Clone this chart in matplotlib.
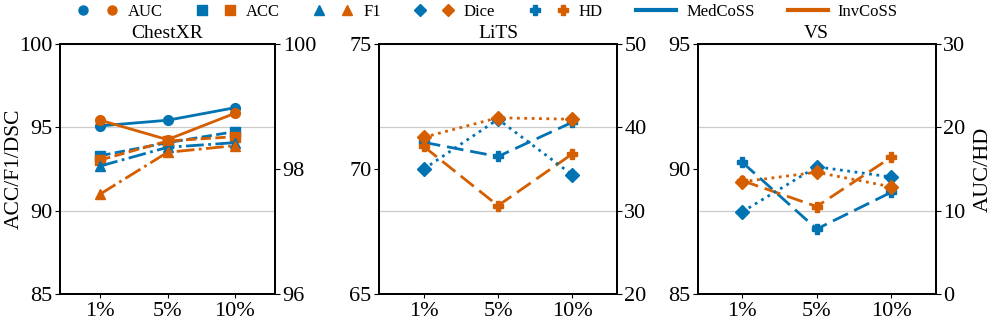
import matplotlib
matplotlib.use("Agg")
import matplotlib.pyplot as plt
from matplotlib.lines import Line2D
from matplotlib.legend_handler import HandlerTuple

plt.rcParams['font.family'] = ['Liberation Serif', 'DejaVu Serif']
plt.rcParams['font.size'] = 16
plt.rcParams['mathtext.fontset'] = 'stix'

x_labels = ["1%", "5%", "10%"]
methods = ["MedCoSS", "InvCoSS"]
colors = {"MedCoSS": "#0173B2", "InvCoSS": "#D55E00"}

# ChestXR
chest_auc = {"MedCoSS": [98.69, 98.78, 98.98], "InvCoSS": [98.78, 98.47, 98.89]}
chest_acc = {"MedCoSS": [93.30, 94.08, 94.74], "InvCoSS": [93.04, 94.18, 94.44]}
chest_f1 = {"MedCoSS": [92.68, 93.80, 94.08], "InvCoSS": [91.00, 93.50, 93.90]}
# LiTS
lits_dice = {"MedCoSS": [70.00, 71.99, 69.77], "InvCoSS": [71.27, 72.05, 71.99]}
lits_hd = {"MedCoSS": [38.2, 36.5, 40.6], "InvCoSS": [37.7, 30.6, 36.8]}
# VS
vs_dice = {"MedCoSS": [88.29, 90.09, 89.68], "InvCoSS": [89.49, 89.87, 89.29]}
vs_hd = {"MedCoSS": [15.8, 7.8, 12.2], "InvCoSS": [13.6, 10.5, 16.4]}

styles = {
    "AUC": dict(ls='-', marker='o'),
    "ACC": dict(ls='--', marker='s'),
    "F1": dict(ls='-.', marker='^'),
    "Dice": dict(ls=':', marker='D'),
    "HD": dict(ls=(0, (6, 2.5)), marker='P'),
}

fig = plt.figure(figsize=(9.96, 3.21), dpi=100)
bottom, height = 27 / 321, 250 / 321
positions = [(60 / 996, 215 / 996), (379.3 / 996, 237.4 / 996), (697.7 / 996, 238 / 996)]
xs = list(range(len(x_labels)))


def draw(ax, data, metric):
    for m in methods:
        ax.plot(xs, data[m], color=colors[m], lw=2, ms=7, **styles[metric])


grid_kw = dict(color='#cccccc', lw=0.9)

# Panel 1
ax = fig.add_axes([positions[0][0], bottom, positions[0][1], height])
ax2 = ax.twinx()
ax.set_ylim(85, 100)
ax.set_yticks([85, 90, 95, 100])
ax2.set_ylim(96, 100)
ax2.set_yticks([96, 98, 100])
ax.grid(True, axis='y', **grid_kw)
ax.set_axisbelow(True)
draw(ax, chest_acc, "ACC")
draw(ax, chest_f1, "F1")
draw(ax2, chest_auc, "AUC")
ax.set_title("ChestXR", fontsize=14, pad=4)
ax.set_ylabel("ACC/F1/DSC", fontsize=15.5)
ax.yaxis.set_label_coords((19.0 - 60) / 215, 0.5)
ax.yaxis.label.set_va('baseline')
axes_all = [(ax, ax2)]

# Panel 2 & 3
for pos, dice, hd, title, ylim, ylim2, yt, yt2 in [
    (positions[1], lits_dice, lits_hd, "LiTS", (65, 75), (20, 50), [65, 70, 75], [20, 30, 40, 50]),
    (positions[2], vs_dice, vs_hd, "VS", (85, 95), (0, 30), [85, 90, 95], [0, 10, 20, 30]),
]:
    ax = fig.add_axes([pos[0], bottom, pos[1], height])
    ax2 = ax.twinx()
    ax.set_ylim(*ylim)
    ax.set_yticks(yt)
    ax2.set_ylim(*ylim2)
    ax2.set_yticks(yt2)
    ax2.grid(True, axis='y', **grid_kw)
    ax.set_zorder(ax2.get_zorder() + 1)
    ax.patch.set_visible(False)
    draw(ax, dice, "Dice")
    draw(ax2, hd, "HD")
    ax.set_title(title, fontsize=14, pad=4)
    axes_all.append((ax, ax2))

axes_all[-1][1].set_ylabel("AUC/HD", fontsize=16, labelpad=6)

for a, b in axes_all:
    a.set_xlim(-0.6, 2.6)
    a.set_xticks(xs)
    a.set_xticklabels(x_labels)
    a.tick_params(axis='x', length=3, pad=3)
    a.tick_params(axis='y', pad=2)
    b.tick_params(axis='y', pad=2)
    for s in a.spines.values():
        s.set_linewidth(1.3)
    for s in b.spines.values():
        s.set_linewidth(1.3)

# Legend
handles = []
labels = []
for metric in ["AUC", "ACC", "F1", "Dice", "HD"]:
    t = tuple(Line2D([], [], ls='none', marker=styles[metric]['marker'], color=colors[m], ms=6.5)
              for m in methods)
    handles.append(t)
    labels.append(metric)
for m in methods:
    handles.append(Line2D([], [], color=colors[m], lw=3))
    labels.append(m)

fig.legend(handles, labels, loc='upper center', bbox_to_anchor=(0.4895, 1.035), ncol=7,
           frameon=False, fontsize=12, handlelength=2.4, handletextpad=0.6,
           columnspacing=2.0, handler_map={tuple: HandlerTuple(ndivide=None, pad=1.0)})

fig.savefig("out.png", dpi=100)
